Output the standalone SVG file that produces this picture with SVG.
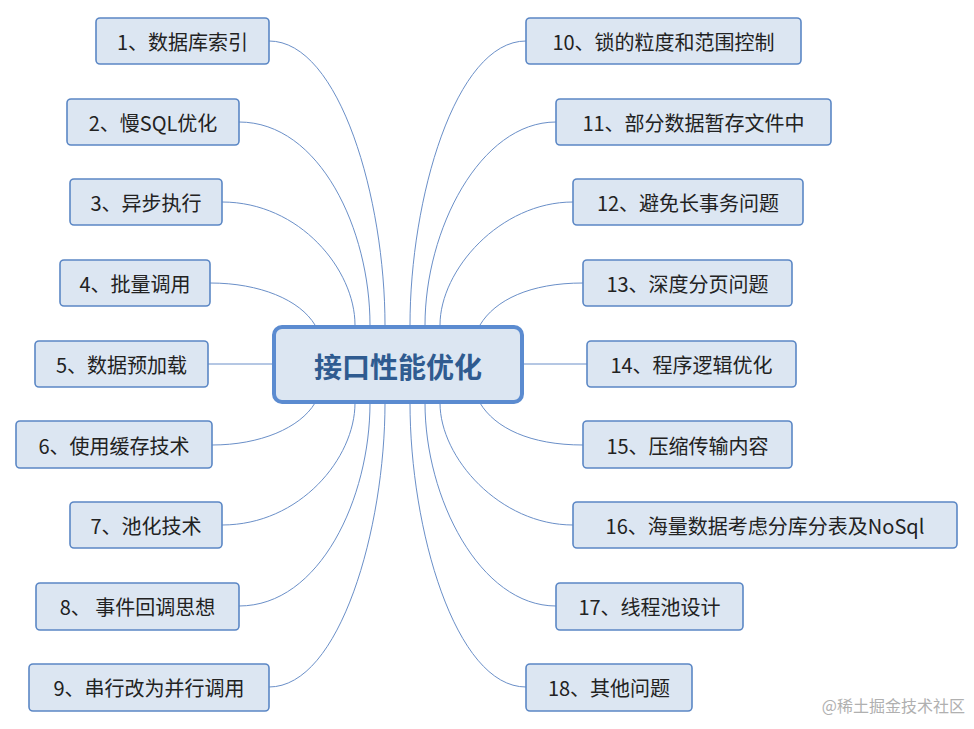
<svg xmlns="http://www.w3.org/2000/svg" width="974" height="729" viewBox="0 0 974 729">
<style>
.leaf rect{fill:#dce6f2;stroke:#5b87c5;stroke-width:1.6}
.leaf text{font-family:"Noto Sans CJK SC","Liberation Sans",sans-serif;font-size:20px;fill:#222;text-anchor:middle;dominant-baseline:central}
#conn path{fill:none;stroke:#6a8fc8;stroke-width:1}
</style>
<rect width="974" height="729" fill="#fff"/>
<g id="conn">
<path d="M269,41 C340,41 385,200 385,325"/>
<path d="M239,122 C320,122 370,230 370,325"/>
<path d="M222,202 C300,202 355,270 355,325"/>
<path d="M210,283 C260,283 300,300 315,325"/>
<path d="M208,364 L272,364"/>
<path d="M212,445 C260,445 300,428 315,403"/>
<path d="M222,525 C300,525 355,458 355,403"/>
<path d="M239,606 C320,606 370,498 370,403"/>
<path d="M269,687 C340,687 385,528 385,403"/>
<path d="M526,41 C455,41 410,200 410,325"/>
<path d="M556,122 C480,122 425,230 425,325"/>
<path d="M573,202 C500,202 440,270 440,325"/>
<path d="M583,283 C530,283 495,300 480,325"/>
<path d="M587,364 L523,364"/>
<path d="M583,445 C530,445 495,428 480,403"/>
<path d="M573,525 C500,525 440,458 440,403"/>
<path d="M556,606 C480,606 425,498 425,403"/>
<path d="M526,687 C455,687 410,528 410,403"/>
</g>
<g id="center"><rect x="274" y="327" width="248" height="75" rx="8" fill="#dce6f2" stroke="#5b8bd0" stroke-width="4"/>
<text x="398" y="366" font-family="Noto Sans CJK SC,Liberation Sans,sans-serif" font-size="28" font-weight="bold" fill="#2f5b90" text-anchor="middle" dominant-baseline="central">接口性能优化</text></g>
<g id="n1" class="leaf"><rect x="96" y="18" width="173" height="46" rx="4"/><text x="182.5" y="41">1、数据库索引</text></g>
<g id="n2" class="leaf"><rect x="67" y="99" width="172" height="46" rx="4"/><text x="153" y="122">2、慢SQL优化</text></g>
<g id="n3" class="leaf"><rect x="70" y="179" width="152" height="46" rx="4"/><text x="146" y="202">3、异步执行</text></g>
<g id="n4" class="leaf"><rect x="60" y="260" width="150" height="46" rx="4"/><text x="135" y="283">4、批量调用</text></g>
<g id="n5" class="leaf"><rect x="35" y="341" width="173" height="46" rx="4"/><text x="121.5" y="364">5、数据预加载</text></g>
<g id="n6" class="leaf"><rect x="16" y="421" width="196" height="47" rx="4"/><text x="114" y="445">6、使用缓存技术</text></g>
<g id="n7" class="leaf"><rect x="70" y="502" width="152" height="46" rx="4"/><text x="146" y="525">7、池化技术</text></g>
<g id="n8" class="leaf"><rect x="36" y="583" width="203" height="47" rx="4"/><text x="137.5" y="606">8、 事件回调思想</text></g>
<g id="n9" class="leaf"><rect x="29" y="664" width="240" height="47" rx="4"/><text x="149" y="687">9、串行改为并行调用</text></g>
<g id="n10" class="leaf"><rect x="526" y="18" width="275" height="46" rx="4"/><text x="663.5" y="41">10、锁的粒度和范围控制</text></g>
<g id="n11" class="leaf"><rect x="556" y="99" width="275" height="46" rx="4"/><text x="693.5" y="122">11、部分数据暂存文件中</text></g>
<g id="n12" class="leaf"><rect x="573" y="179" width="230" height="46" rx="4"/><text x="688" y="202">12、避免长事务问题</text></g>
<g id="n13" class="leaf"><rect x="583" y="260" width="209" height="46" rx="4"/><text x="687.5" y="283">13、深度分页问题</text></g>
<g id="n14" class="leaf"><rect x="587" y="341" width="209" height="46" rx="4"/><text x="691.5" y="364">14、程序逻辑优化</text></g>
<g id="n15" class="leaf"><rect x="583" y="421" width="209" height="47" rx="4"/><text x="687.5" y="445">15、压缩传输内容</text></g>
<g id="n16" class="leaf"><rect x="573" y="502" width="384" height="46" rx="4"/><text x="765" y="525">16、海量数据考虑分库分表及NoSql</text></g>
<g id="n17" class="leaf"><rect x="556" y="583" width="187" height="47" rx="4"/><text x="649.5" y="606">17、线程池设计</text></g>
<g id="n18" class="leaf"><rect x="526" y="664" width="166" height="47" rx="4"/><text x="609" y="687">18、其他问题</text></g>
<text x="965" y="712" font-family="Noto Sans CJK SC,Liberation Sans,sans-serif" font-size="16" fill="#b0b0b0" text-anchor="end">@稀土掘金技术社区</text>
</svg>
